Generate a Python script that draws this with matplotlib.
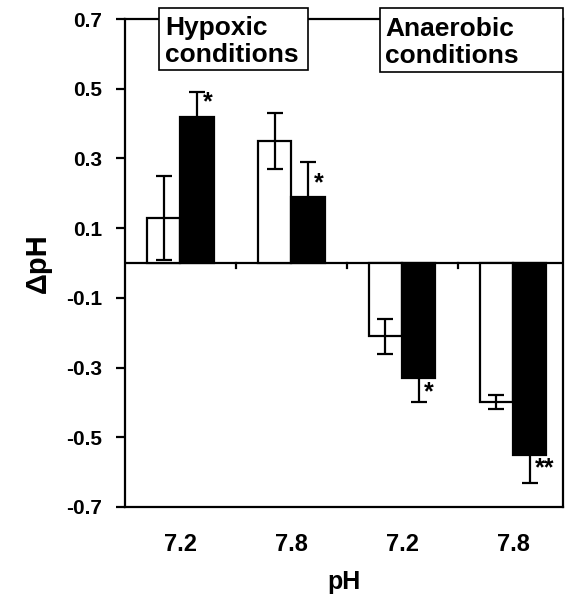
import numpy as np
import matplotlib
matplotlib.use('Agg')
import matplotlib.pyplot as plt
from matplotlib.patches import Rectangle

plt.rcParams['font.family'] = ['Liberation Sans', 'DejaVu Sans']
plt.rcParams['font.weight'] = 'bold'

# data
groups = ['7.2', '7.8', '7.2', '7.8']
white_vals = [0.13, 0.35, -0.21, -0.40]
white_err = [0.12, 0.08, 0.05, 0.02]
black_vals = [0.42, 0.19, -0.33, -0.55]
black_err = [0.07, 0.10, 0.07, 0.08]
stars = ['*', '*', '*', '**']
panels = ['Hypoxic\nconditions', 'Anaerobic\nconditions']
yticks = [-0.7, -0.5, -0.3, -0.1, 0.1, 0.3, 0.5, 0.7]

w = 0.3
x = np.arange(len(groups))

fig = plt.figure(figsize=(5.68, 5.95), dpi=100)
ax = fig.add_axes([0.220, 0.148, 0.771, 0.820])

ax.bar(x - w / 2, white_vals, w, color='white', edgecolor='black', linewidth=1.6, zorder=2)
ax.bar(x + w / 2, black_vals, w, color='black', edgecolor='black', linewidth=1.6, zorder=2)
ax.errorbar(x - w / 2, white_vals, yerr=white_err, fmt='none', ecolor='black',
            elinewidth=1.6, capsize=5.8, capthick=1.6, zorder=3)
ax.errorbar(x + w / 2, black_vals, yerr=black_err, fmt='none', ecolor='black',
            elinewidth=1.6, capsize=5.8, capthick=1.6, zorder=3)

# significance stars next to the black bars
for xi, v, s in zip(x, black_vals, stars):
    ax.text(xi + 0.2, v + np.sign(v) * 0.04, s, ha='left', va='center',
            fontsize=18, fontweight='bold', zorder=4)

# zero line with small ticks between groups
ax.axhline(0, color='black', linewidth=1.6, zorder=1)
for b in x[:-1] + 0.5:
    ax.plot([b, b], [0, -0.015], color='black', linewidth=1.6, zorder=1)

ax.set_xlim(-0.5, 3.45)
ax.set_ylim(-0.7, 0.7)
ax.set_yticks(yticks)
ax.set_yticklabels([f'{t:.1f}' for t in yticks])
ax.set_xticks(x)
ax.set_xticklabels(groups)
ax.tick_params(axis='y', direction='out', length=6.5, width=1.6, pad=10, labelsize=15)
ax.tick_params(axis='x', length=0, pad=19, labelsize=17)
for sp in ax.spines.values():
    sp.set_linewidth(1.6)

ax.set_xlabel('pH', fontsize=18, fontweight='bold', labelpad=10)
ax.set_ylabel('ΔpH', fontsize=21, fontweight='bold', labelpad=10)

# condition boxes sitting on the top frame
boxes = [(0.078, 0.895, 0.340, 0.128), (0.582, 0.891, 0.418, 0.132)]
text_x = [0.0913, 0.594]
for (bx, by, bw, bh), tx, label in zip(boxes, text_x, panels):
    ax.add_patch(Rectangle((bx, by), bw, bh, transform=ax.transAxes, facecolor='white',
                           edgecolor='black', linewidth=1.2, clip_on=False, zorder=5))
    ax.text(tx, by + bh / 2 - 0.005, label, transform=ax.transAxes, ha='left', va='center',
            fontsize=19, fontweight='bold', linespacing=1.15, zorder=6)

fig.savefig('out.png', dpi=100)
